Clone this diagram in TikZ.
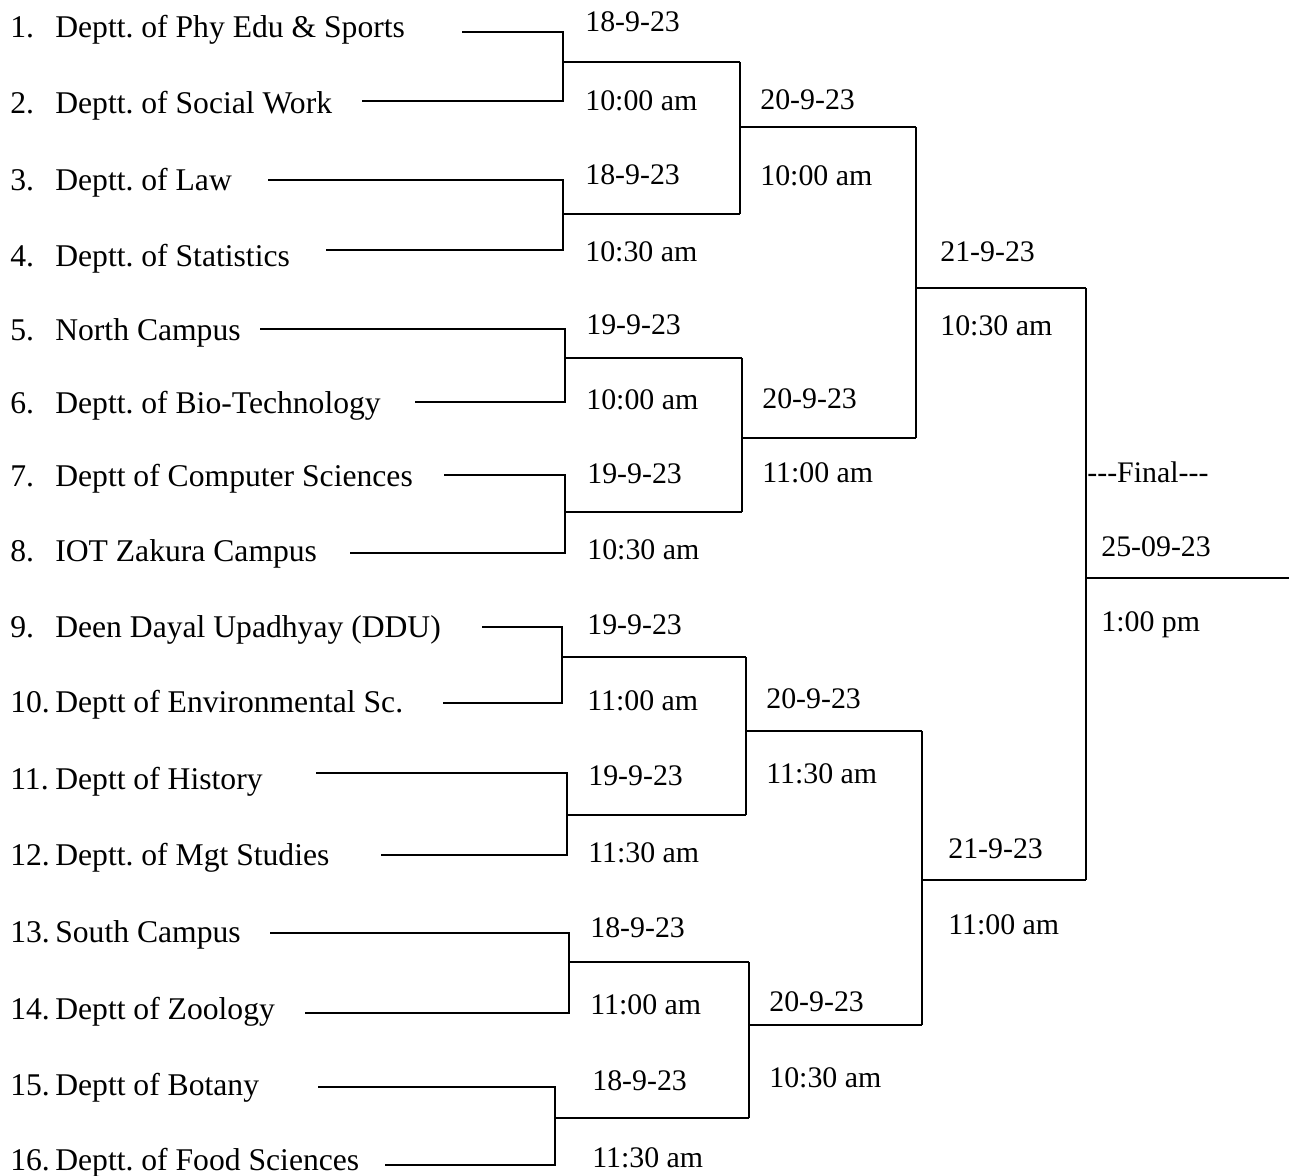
\documentclass[tikz,border=0pt]{standalone}
\usepackage{fontspec}
\setmainfont{Liberation Serif}
\frenchspacing

\tikzset{
  team/.style={anchor=base west, inner sep=0pt, font=\fontsize{18}{21}\selectfont},
  slot/.style={anchor=base west, inner sep=0pt, font=\fontsize{17}{20}\selectfont},
  wire/.style={line width=1.5pt}
}

\begin{document}
\begin{tikzpicture}[x=0.02cm, y=-0.02cm]
  \useasboundingbox (0,0) rectangle (1289,1176);
  % Bracket: 16 teams on the left, one row each (~76px pitch),
  % rounds run to the right; dates sit above each line, times below.
  % Coordinates: pixels of the sheet, y grows downwards.
  \foreach \i/\lab/\yb/\xe/\ye in {
      1/{Deptt. of Phy Edu \& Sports}/38/462/32,
      2/{Deptt. of Social Work}/114/362/101,
      3/{Deptt. of Law}/191/268/180,
      4/{Deptt. of Statistics}/266/326/250,
      5/{North Campus}/340/260/329,
      6/{Deptt. of Bio-Technology}/413/415/402,
      7/{Deptt of Computer Sciences}/486/444/475,
      8/{IOT Zakura Campus}/561/350/553,
      9/{Deen Dayal Upadhyay (DDU)}/637/482/627,
      10/{Deptt of Environmental Sc.}/712/443/703,
      11/{Deptt of History}/789/316/773,
      12/{Deptt. of Mgt Studies}/865/381/855,
      13/{South Campus}/942/270/933,
      14/{Deptt of Zoology}/1019/305/1013,
      15/{Deptt of Botany}/1095/318/1087,
      16/{Deptt. of Food Sciences}/1170/385/1165} {
    \node[team] (t\i) at (10,\yb) {\makebox[0.9cm][l]{\i.}\lab};
    \coordinate (e\i) at (\xe,\ye);
  }
  % first round
  \foreach \k/\a/\b/\vx/\my/\rx in {1/1/2/563/62/740, 2/3/4/563/214/740,
      3/5/6/565/358/742, 4/7/8/565/512/742, 5/9/10/562/657/746,
      6/11/12/567/815/746, 7/13/14/569/962/749, 8/15/16/555/1118/749} {
    \coordinate (j\k) at (\vx,\my);
    \coordinate (m\k) at (\rx,\my);
    \draw[wire] (e\a) -- (e\a -| j\k) -- (e\b -| j\k) -- (e\b);
    \draw[wire] (j\k) -- (m\k);
  }
  % second round
  \foreach \k/\a/\b/\my/\rx in {1/1/2/127/916, 2/3/4/438/916,
      3/5/6/731/922, 4/7/8/1025/922} {
    \coordinate (q\k) at (\rx,\my);
    \draw[wire] (m\a) -- (m\b);
    \draw[wire] (m\a |- q\k) -- (q\k);
  }
  % semi-finals
  \foreach \k/\a/\b/\my in {1/1/2/288, 2/3/4/880} {
    \coordinate (s\k) at (1086,\my);
    \draw[wire] (q\a) -- (q\b);
    \draw[wire] (q\a |- s\k) -- (s\k);
  }
  % final
  \coordinate (fin) at (1289,578);
  \draw[wire] (s1) -- (s2);
  \draw[wire] (s1 |- fin) -- (fin);
  % dates and times
  \foreach \k/\x/\da/\ya/\ti/\yt in {
      m1/585/18-9-23/32/10:00 am/111, m2/585/18-9-23/185/10:30 am/261,
      m3/586/19-9-23/334/10:00 am/409, m4/587/19-9-23/483/10:30 am/559,
      m5/587/19-9-23/634/11:00 am/710, m6/588/19-9-23/785/11:30 am/862,
      m7/590/18-9-23/937/11:00 am/1014, m8/592/18-9-23/1090/11:30 am/1167,
      q1/760/20-9-23/110/10:00 am/186, q2/762/20-9-23/408/11:00 am/482,
      q3/766/20-9-23/708/11:30 am/783, q4/769/20-9-23/1011/10:30 am/1087,
      s1/940/21-9-23/261/10:30 am/335, s2/948/21-9-23/858/11:00 am/934} {
    \node[slot] (d\k) at (\x,\ya) {\da};
    \node[slot] (h\k) at (\x,\yt) {\ti};
  }
  \node[slot] (ftitle) at (1087,482) {-{}-{}-Final-{}-{}-};
  \node[slot] (fdate) at (1101,556) {25-09-23};
  \node[slot] (ftime) at (1101,631) {1:00 pm};
\end{tikzpicture}
\end{document}
